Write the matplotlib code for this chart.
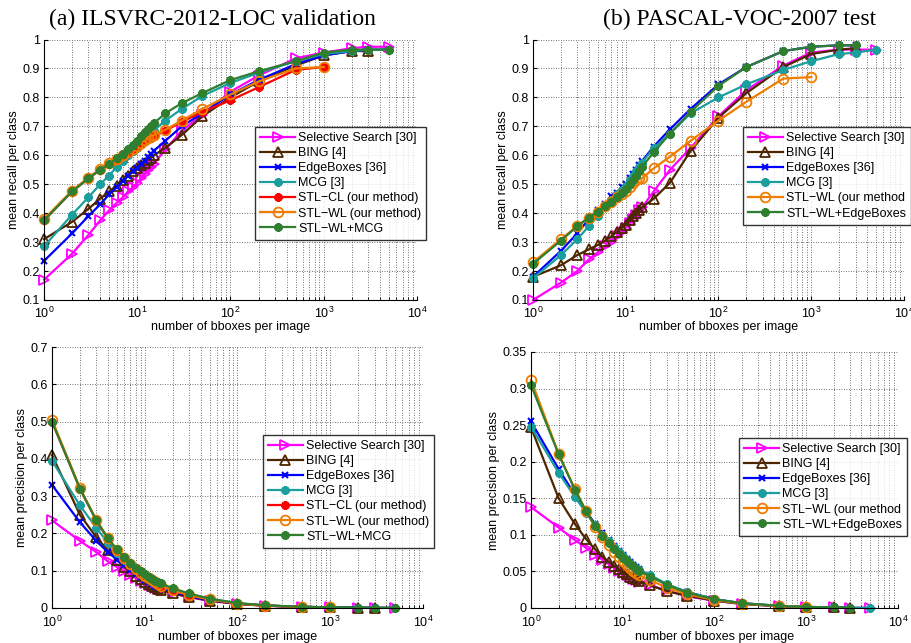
import matplotlib
matplotlib.use("Agg")
import matplotlib.pyplot as plt
from matplotlib.ticker import FixedLocator, FixedFormatter, LogLocator, NullFormatter

plt.rcParams['font.family'] = ['Liberation Sans', 'DejaVu Sans']
plt.rcParams['mathtext.fontset'] = 'custom'
plt.rcParams['mathtext.rm'] = 'Liberation Sans'
plt.rcParams['mathtext.it'] = 'Liberation Sans:italic'

# ---------------- data ----------------
n_boxes = [1, 2, 3, 4, 5, 6, 7, 8, 9, 10, 11, 12, 13, 14, 15, 20, 30, 50, 100, 200, 500, 1000, 2000, 3000, 5000]

titles = ["(a) ILSVRC-2012-LOC validation", "(b) PASCAL-VOC-2007 test"]
labels_a = ["Selective Search [30]", "BING [4]", "EdgeBoxes [36]", "MCG [3]",
            "STL\u2212CL (our method)", "STL\u2212WL (our method)", "STL\u2212WL+MCG"]
labels_b = ["Selective Search [30]", "BING [4]", "EdgeBoxes [36]", "MCG [3]",
            "STL\u2212WL (our method", "STL\u2212WL+EdgeBoxes"]

# (a) recall
a_rec_ss = [0.17, 0.26, 0.325, 0.375, 0.41, 0.435, 0.455, 0.475, 0.49, 0.505, 0.52, 0.535, 0.55, 0.56, 0.57,
            0.62, 0.685, 0.74, 0.82, 0.875, 0.935, 0.955, 0.97, 0.975, 0.975]
a_rec_bing = [0.31, 0.37, 0.415, 0.45, 0.475, 0.495, 0.515, 0.53, 0.545, 0.555, 0.565, 0.575, 0.585, 0.59, 0.60,
              0.625, 0.67, 0.735, 0.80, 0.855, 0.91, 0.945, 0.96, 0.96]
a_rec_eb = [0.235, 0.33, 0.39, 0.43, 0.465, 0.49, 0.51, 0.53, 0.545, 0.555, 0.57, 0.58, 0.595, 0.605, 0.615,
            0.65, 0.70, 0.745, 0.81, 0.86, 0.915, 0.945, 0.96, 0.965, 0.965]
a_rec_mcg = [0.285, 0.395, 0.455, 0.50, 0.53, 0.56, 0.58, 0.60, 0.615, 0.625, 0.64, 0.655, 0.665, 0.675, 0.685,
             0.72, 0.76, 0.805, 0.85, 0.885, 0.925, 0.95, 0.96, 0.965, 0.965]
a_rec_cl = [0.375, 0.475, 0.52, 0.55, 0.57, 0.585, 0.60, 0.61, 0.62, 0.63, 0.64, 0.65, 0.655, 0.66, 0.665,
            0.685, 0.715, 0.75, 0.79, 0.835, 0.895, 0.905]
a_rec_wl = [0.38, 0.478, 0.523, 0.552, 0.572, 0.588, 0.602, 0.613, 0.623, 0.633, 0.643, 0.652, 0.66, 0.665, 0.67,
            0.688, 0.72, 0.76, 0.81, 0.855, 0.90, 0.905]
a_rec_comb = [0.375, 0.475, 0.52, 0.55, 0.57, 0.59, 0.605, 0.62, 0.635, 0.65, 0.665, 0.68, 0.69, 0.70, 0.71,
              0.745, 0.78, 0.815, 0.86, 0.89, 0.925, 0.955, 0.965, 0.965, 0.965]

# (b) recall
b_rec_ss = [0.10, 0.16, 0.20, 0.24, 0.265, 0.285, 0.30, 0.32, 0.335, 0.35, 0.365, 0.38, 0.395, 0.41, 0.42,
            0.475, 0.55, 0.625, 0.735, 0.825, 0.91, 0.955, 0.965, 0.965, 0.965]
b_rec_bing = [0.18, 0.22, 0.255, 0.275, 0.29, 0.305, 0.32, 0.335, 0.35, 0.36, 0.375, 0.39, 0.40, 0.41, 0.42,
              0.45, 0.505, 0.615, 0.73, 0.815, 0.905, 0.95, 0.965, 0.97]
b_rec_eb = [0.18, 0.27, 0.33, 0.38, 0.41, 0.43, 0.46, 0.47, 0.49, 0.50, 0.52, 0.535, 0.55, 0.565, 0.58,
            0.63, 0.69, 0.76, 0.845, 0.905, 0.96, 0.975, 0.98, 0.98]
b_rec_mcg = [0.175, 0.255, 0.31, 0.355, 0.39, 0.42, 0.445, 0.465, 0.48, 0.495, 0.515, 0.53, 0.545, 0.56, 0.575,
             0.625, 0.675, 0.745, 0.80, 0.845, 0.895, 0.925, 0.95, 0.955, 0.965]
b_rec_wl = [0.23, 0.31, 0.355, 0.385, 0.405, 0.425, 0.44, 0.455, 0.465, 0.475, 0.49, 0.505, 0.515, 0.52, 0.52,
            0.555, 0.595, 0.65, 0.72, 0.785, 0.865, 0.87]
b_rec_comb = [0.225, 0.305, 0.355, 0.385, 0.405, 0.425, 0.44, 0.455, 0.47, 0.485, 0.50, 0.515, 0.53, 0.545, 0.56,
              0.61, 0.675, 0.75, 0.84, 0.905, 0.96, 0.975, 0.98, 0.98]

# (a) precision
a_prec_ss = [0.235, 0.18, 0.15, 0.125, 0.11, 0.098, 0.088, 0.08, 0.073, 0.067, 0.062, 0.058, 0.054, 0.051, 0.048,
             0.039, 0.029, 0.019, 0.011, 0.006, 0.003, 0.0015, 0.0008, 0.0005, 0.0003]
a_prec_bing = [0.41, 0.25, 0.19, 0.155, 0.13, 0.11, 0.098, 0.087, 0.078, 0.07, 0.064, 0.059, 0.055, 0.051, 0.048,
               0.039, 0.03, 0.02, 0.011, 0.006, 0.003, 0.0016, 0.0009, 0.0006]
a_prec_eb = [0.33, 0.23, 0.18, 0.15, 0.13, 0.115, 0.102, 0.092, 0.083, 0.075, 0.069, 0.064, 0.06, 0.056, 0.053,
             0.043, 0.032, 0.021, 0.012, 0.0065, 0.003, 0.0016, 0.0008, 0.0005, 0.0003]
a_prec_mcg = [0.395, 0.275, 0.215, 0.175, 0.148, 0.13, 0.116, 0.105, 0.096, 0.088, 0.082, 0.076, 0.071, 0.067, 0.063,
              0.051, 0.037, 0.025, 0.013, 0.007, 0.003, 0.0016, 0.0008, 0.0005, 0.0003]
a_prec_cl = [0.50, 0.32, 0.235, 0.185, 0.155, 0.133, 0.117, 0.104, 0.094, 0.086, 0.079, 0.073, 0.068, 0.064, 0.06,
             0.047, 0.034, 0.023, 0.012, 0.0065, 0.003, 0.0016]
a_prec_wl = [0.505, 0.322, 0.236, 0.187, 0.156, 0.134, 0.118, 0.105, 0.095, 0.087, 0.08, 0.074, 0.069, 0.064, 0.06,
             0.048, 0.035, 0.023, 0.012, 0.0065, 0.003, 0.0016]
a_prec_comb = [0.50, 0.32, 0.235, 0.188, 0.157, 0.136, 0.12, 0.108, 0.098, 0.09, 0.084, 0.078, 0.073, 0.069, 0.066,
               0.053, 0.039, 0.025, 0.013, 0.007, 0.0035, 0.0018, 0.0009, 0.0006, 0.0004]

# (b) precision
b_prec_ss = [0.138, 0.11, 0.093, 0.082, 0.073, 0.066, 0.06, 0.055, 0.051, 0.048, 0.045, 0.042, 0.04, 0.038, 0.036,
             0.031, 0.024, 0.016, 0.01, 0.0055, 0.0025, 0.0013, 0.0007, 0.0005, 0.0003]
b_prec_bing = [0.247, 0.15, 0.115, 0.094, 0.08, 0.07, 0.063, 0.058, 0.053, 0.049, 0.046, 0.043, 0.041, 0.039, 0.037,
               0.031, 0.023, 0.017, 0.01, 0.0055, 0.0025, 0.0013, 0.0007, 0.0005]
b_prec_eb = [0.255, 0.19, 0.155, 0.132, 0.115, 0.103, 0.093, 0.085, 0.078, 0.072, 0.067, 0.063, 0.059, 0.056, 0.053,
             0.044, 0.032, 0.022, 0.012, 0.0065, 0.003, 0.0015, 0.0008, 0.0005]
b_prec_mcg = [0.248, 0.185, 0.152, 0.13, 0.113, 0.1, 0.091, 0.083, 0.077, 0.071, 0.066, 0.062, 0.058, 0.055, 0.052,
              0.045, 0.033, 0.022, 0.012, 0.0065, 0.003, 0.0015, 0.0008, 0.0005, 0.0003]
b_prec_wl = [0.312, 0.211, 0.163, 0.132, 0.111, 0.097, 0.086, 0.077, 0.07, 0.064, 0.059, 0.055, 0.051, 0.048, 0.045,
             0.038, 0.028, 0.019, 0.011, 0.006, 0.0028, 0.0014]
b_prec_comb = [0.305, 0.21, 0.162, 0.132, 0.112, 0.099, 0.089, 0.081, 0.074, 0.069, 0.064, 0.06, 0.057, 0.054, 0.051,
               0.043, 0.032, 0.021, 0.012, 0.0065, 0.003, 0.0015, 0.0008, 0.0005]

# ---------------- styles ----------------
C_SS = '#ff00ff'
C_BING = '#4d2600'
C_EB = '#0000ff'
C_MCG = '#1a9e9e'
C_CL = '#ff0000'
C_WL = '#ee7d00'
C_COMB = '#2f7f2f'
AST = (8, 2, 0)

style_ss = dict(color=C_SS, marker='>', mfc='none', ms=7.5, mew=1.3)
style_bing = dict(color=C_BING, marker='^', mfc='none', ms=7.5, mew=1.3)
style_eb = dict(color=C_EB, marker='x', ms=5, mew=1.5)
style_mcg = dict(color=C_MCG, marker=AST, ms=6, mew=2)
style_cl = dict(color=C_CL, marker=AST, ms=6, mew=2)
style_wl = dict(color=C_WL, marker='o', mfc='none', ms=7, mew=1.3)
style_comb = dict(color=C_COMB, marker=AST, ms=6, mew=2)

W, H = 912, 643
fig = plt.figure(figsize=(W / 100, H / 100), dpi=100)


def px_axes(l, r, t, b):
    return fig.add_axes([l / W, 1 - b / H, (r - l) / W, (b - t) / H])


def setup(ax, ylim, yticks, ylabels, ylab, xpad):
    ax.set_xscale('log')
    ax.set_xlim(1, 1e4)
    ax.set_ylim(*ylim)
    ax.yaxis.set_major_locator(FixedLocator(yticks))
    ax.yaxis.set_major_formatter(FixedFormatter(ylabels))
    ax.xaxis.set_major_locator(LogLocator(base=10, numticks=10))
    ax.xaxis.set_minor_locator(LogLocator(base=10, subs=range(2, 10), numticks=20))
    ax.xaxis.set_minor_formatter(NullFormatter())
    ax.grid(True, which='major', axis='both', linestyle=(0, (1, 2)), color='#444444', linewidth=0.6)
    ax.grid(True, which='minor', axis='x', linestyle=(0, (1, 2)), color='#444444', linewidth=0.6)
    ax.tick_params(direction='in', which='both', labelsize=9, length=3, top=False, right=False)
    ax.tick_params(which='minor', length=2)
    ax.tick_params(axis='x', pad=xpad)
    ax.tick_params(axis='y', pad=3)
    ax.spines['top'].set_visible(False)
    ax.spines['right'].set_visible(False)
    ax.set_xlabel('number of bboxes per image', fontsize=9, labelpad=0.5)
    ax.set_ylabel(ylab, fontsize=9, labelpad=2)
    ax.set_axisbelow(True)


def draw(ax, series, labels, legend_px):
    lines = []
    for (y, st), lab in zip(series, labels):
        ln, = ax.plot(n_boxes[:len(y)], y, linewidth=1.6, label=lab, clip_on=False, **st)
        lines.append(ln)
    lx, ly = legend_px
    leg = fig.legend(handles=lines, loc='upper left', bbox_to_anchor=(lx / W, 1 - ly / H),
                     fontsize=9, frameon=True, fancybox=False, shadow=False,
                     handlelength=2.8, handletextpad=0.25, labelspacing=0.25,
                     borderpad=0.4, borderaxespad=0)
    leg.get_frame().set_edgecolor('black')
    leg.get_frame().set_linewidth(1.0)
    return leg


rec_ticks = [0.1, 0.2, 0.3, 0.4, 0.5, 0.6, 0.7, 0.8, 0.9, 1.0]
rec_labels = ['0.1', '0.2', '0.3', '0.4', '0.5', '0.6', '0.7', '0.8', '0.9', '1']
pa_ticks = [0, 0.1, 0.2, 0.3, 0.4, 0.5, 0.6, 0.7]
pa_labels = ['0', '0.1', '0.2', '0.3', '0.4', '0.5', '0.6', '0.7']
pb_ticks = [0, 0.05, 0.1, 0.15, 0.2, 0.25, 0.3, 0.35]
pb_labels = ['0', '0.05', '0.1', '0.15', '0.2', '0.25', '0.3', '0.35']

# top-left
ax1 = px_axes(44, 417, 39.5, 300)
setup(ax1, (0.1, 1.0), rec_ticks, rec_labels, 'mean recall per class', 4)
draw(ax1, [(a_rec_ss, style_ss), (a_rec_bing, style_bing), (a_rec_eb, style_eb), (a_rec_mcg, style_mcg),
           (a_rec_cl, style_cl), (a_rec_wl, style_wl), (a_rec_comb, style_comb)], labels_a, (255, 127))

# top-right
ax2 = px_axes(533, 904, 39.5, 300)
setup(ax2, (0.1, 1.0), rec_ticks, rec_labels, 'mean recall per class', 4)
draw(ax2, [(b_rec_ss, style_ss), (b_rec_bing, style_bing), (b_rec_eb, style_eb), (b_rec_mcg, style_mcg),
           (b_rec_wl, style_wl), (b_rec_comb, style_comb)], labels_b, (743, 127))

# bottom-left
ax3 = px_axes(52, 423, 347, 608)
setup(ax3, (0, 0.7), pa_ticks, pa_labels, 'mean precision per class', 5)
draw(ax3, [(a_prec_ss, style_ss), (a_prec_bing, style_bing), (a_prec_eb, style_eb), (a_prec_mcg, style_mcg),
           (a_prec_cl, style_cl), (a_prec_wl, style_wl), (a_prec_comb, style_comb)], labels_a, (263, 435))

# bottom-right
ax4 = px_axes(531, 898, 352, 608)
setup(ax4, (0, 0.35), pb_ticks, pb_labels, 'mean precision per class', 5)
draw(ax4, [(b_prec_ss, style_ss), (b_prec_bing, style_bing), (b_prec_eb, style_eb), (b_prec_mcg, style_mcg),
           (b_prec_wl, style_wl), (b_prec_comb, style_comb)], labels_b, (739, 438))

fig.text(212 / W, 1 - 25 / H, titles[0], family=['Liberation Serif', 'DejaVu Serif'], fontsize=17,
         ha='center', va='baseline')
fig.text(740 / W, 1 - 25 / H, titles[1], family=['Liberation Serif', 'DejaVu Serif'], fontsize=17,
         ha='center', va='baseline')

fig.savefig('out.png', dpi=100)
